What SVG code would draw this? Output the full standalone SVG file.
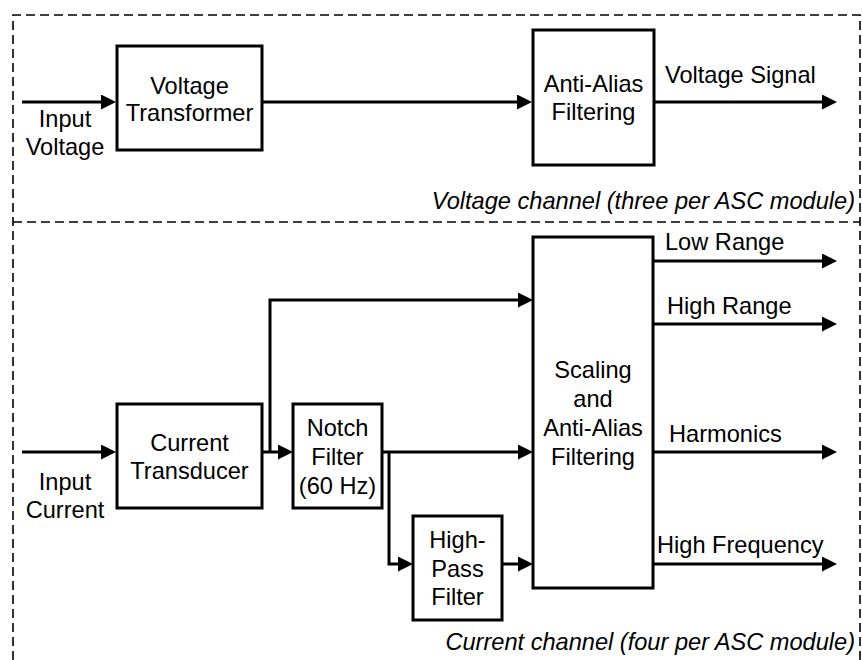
<svg xmlns="http://www.w3.org/2000/svg" width="862" height="660" viewBox="0 0 862 660">
<style>
text{font-family:"Liberation Sans",Arial,sans-serif;font-size:23.6px;fill:#000}
.c{text-anchor:middle}
.i{font-style:italic;text-anchor:end}
.box{fill:#fff;stroke:#000;stroke-width:3}
.w{fill:none;stroke:#000;stroke-width:3}
.a{marker-end:url(#ah)}
.d{fill:none;stroke:#000;stroke-width:1.6;stroke-dasharray:9 5}
</style>
<defs>
<marker id="ah" markerUnits="userSpaceOnUse" markerWidth="15" markerHeight="15" refX="8" refY="7.5" orient="auto">
<path d="M0,0 L15,7.5 L0,15 z" fill="#000"/>
</marker>
</defs>
<g id="frame">
<path class="d" d="M13,660 L13,15 L860,15 L860,660"/>
<path class="d" d="M13,222 L860,222"/>
<text class="i" x="855" y="209">Voltage channel (three per ASC module)</text>
<text class="i" x="855" y="650">Current channel (four per ASC module)</text>
</g>
<g id="connectors">
<path class="w a" d="M22,102 L109,102"/>
<path class="w a" d="M262,102 L525,102"/>
<path class="w a" d="M654,102 L830,102"/>
<path class="w a" d="M22,452 L109,452"/>
<path class="w a" d="M262,452 L286,452"/>
<path class="w a" d="M270,452 L270,300 L526,300"/>
<path class="w a" d="M382,452 L526,452"/>
<path class="w a" d="M389,452 L389,564 L406,564"/>
<path class="w a" d="M502,564 L526,564"/>
<path class="w a" d="M653,261 L830,261"/>
<path class="w a" d="M653,324 L830,324"/>
<path class="w a" d="M653,452 L830,452"/>
<path class="w a" d="M653,564 L830,564"/>
</g>
<g id="labels">
<text class="c" x="65" y="127">Input</text>
<text class="c" x="65" y="155">Voltage</text>
<text x="665" y="83">Voltage Signal</text>
<text class="c" x="65" y="490">Input</text>
<text class="c" x="65" y="518">Current</text>
<text x="665" y="250">Low Range</text>
<text x="667" y="314">High Range</text>
<text x="669" y="442">Harmonics</text>
<text x="657" y="553">High Frequency</text>
</g>
<g id="voltage-transformer">
<rect class="box" x="117" y="46" width="145" height="104"/>
<text class="c" x="189.5" y="94">Voltage</text>
<text class="c" x="189.5" y="121">Transformer</text>
</g>
<g id="anti-alias">
<rect class="box" x="533" y="30" width="121" height="135"/>
<text class="c" x="593.5" y="92">Anti-Alias</text>
<text class="c" x="593.5" y="120">Filtering</text>
</g>
<g id="current-transducer">
<rect class="box" x="117" y="404" width="145" height="104"/>
<text class="c" x="189.5" y="451">Current</text>
<text class="c" x="189.5" y="479">Transducer</text>
</g>
<g id="notch-filter">
<rect class="box" x="293" y="404" width="89" height="104"/>
<text class="c" x="337.5" y="436">Notch</text>
<text class="c" x="337.5" y="465">Filter</text>
<text class="c" x="337.5" y="494">(60 Hz)</text>
</g>
<g id="high-pass-filter">
<rect class="box" x="413" y="516" width="89" height="104"/>
<text class="c" x="457.5" y="548">High-</text>
<text class="c" x="457.5" y="577">Pass</text>
<text class="c" x="457.5" y="605">Filter</text>
</g>
<g id="scaling">
<rect class="box" x="533" y="237" width="120" height="351"/>
<text class="c" x="593" y="378">Scaling</text>
<text class="c" x="593" y="407">and</text>
<text class="c" x="593" y="436">Anti-Alias</text>
<text class="c" x="593" y="465">Filtering</text>
</g>
</svg>
